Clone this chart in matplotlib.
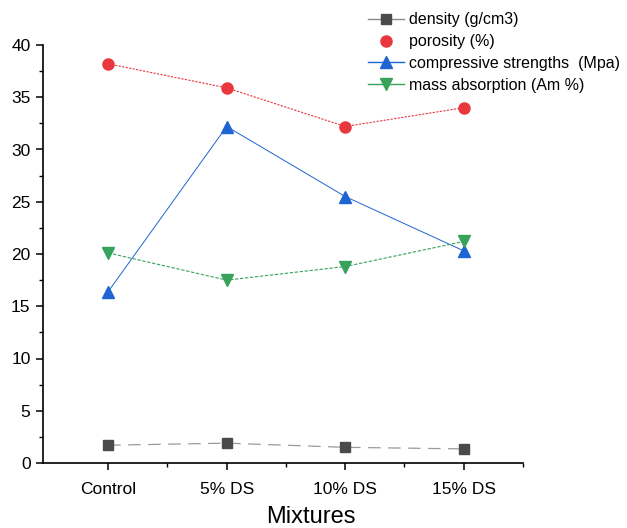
import matplotlib
matplotlib.use("Agg")
import matplotlib.pyplot as plt
from matplotlib.lines import Line2D
from matplotlib.ticker import MultipleLocator

categories = ["Control", "5% DS", "10% DS", "15% DS"]
density = [1.7, 1.9, 1.5, 1.35]
porosity = [38.2, 35.9, 32.2, 34.0]
compressive = [16.4, 32.2, 25.5, 20.3]
mass_abs = [20.1, 17.5, 18.8, 21.2]

c_gray = "#4a4a4a"
c_red = "#e8383d"
c_blue = "#1e64d2"
c_green = "#36a25a"

plt.rcParams['font.family'] = ['Liberation Sans', 'DejaVu Sans']

fig = plt.figure(figsize=(6.27, 5.28), dpi=100)
ax = fig.add_axes([43/627, 1-463/528, (523-43)/627, (463-45)/528])

x = list(range(len(categories)))
ax.plot(x, density, color="#9a9a9a", lw=0.9, linestyle=(0, (10, 6)),
        marker='s', ms=7, mfc=c_gray, mec=c_gray, zorder=3)
ax.plot(x, porosity, color=c_red, lw=0.8, linestyle=(0, (2, 1.2)),
        marker='o', ms=8, mfc=c_red, mec=c_red, zorder=3)
ax.plot(x, compressive, color=c_blue, lw=0.7, linestyle='-',
        marker='^', ms=8.5, mfc=c_blue, mec=c_blue, zorder=3)
ax.plot(x, mass_abs, color=c_green, lw=0.8, linestyle=(0, (3, 1.5)),
        marker='v', ms=8.5, mfc=c_green, mec=c_green, zorder=3)

ax.set_xlim(-0.55, 3.5)
ax.set_ylim(0, 40)
ax.set_xticks(x)
ax.set_xticklabels(categories)
ax.set_xticks([0.5, 1.5, 2.5, 3.5], minor=True)
ax.yaxis.set_major_locator(MultipleLocator(5))
ax.yaxis.set_minor_locator(MultipleLocator(2.5))

for s in ['top', 'right']:
    ax.spines[s].set_visible(False)
for s in ['left', 'bottom']:
    ax.spines[s].set_linewidth(1.2)
ax.tick_params(axis='both', which='major', direction='out', length=5, width=1.1,
               labelsize=12.5)
ax.tick_params(axis='x', which='major', pad=9)
ax.tick_params(axis='y', which='major', pad=4)
ax.tick_params(axis='both', which='minor', direction='out', length=3, width=1.0)
ax.set_xlabel("Mixtures", fontsize=17)
ax.xaxis.label.set_va('center')
ax.xaxis.set_label_coords((311-43)/480, -(517-463)/418)

handles = [
    Line2D([0], [0], color="#8a8a8a", lw=1, marker='s', ms=7, mfc=c_gray, mec=c_gray),
    Line2D([0], [0], color=c_red, lw=0, marker='o', ms=8, mfc=c_red, mec=c_red),
    Line2D([0], [0], color=c_blue, lw=1, marker='^', ms=8, mfc=c_blue, mec=c_blue),
    Line2D([0], [0], color=c_green, lw=1, marker='v', ms=8, mfc=c_green, mec=c_green),
]
labels = ["density (g/cm3)", "porosity (%)", "compressive strengths  (Mpa)",
          "mass absorption (Am %)"]
fig.legend(handles, labels, loc='upper left', bbox_to_anchor=(362/627, 1-6/528),
           frameon=False, fontsize=11.5, handlelength=2.2, handletextpad=0.35,
           labelspacing=0.42, borderaxespad=0)

fig.savefig("out.png", dpi=100)
